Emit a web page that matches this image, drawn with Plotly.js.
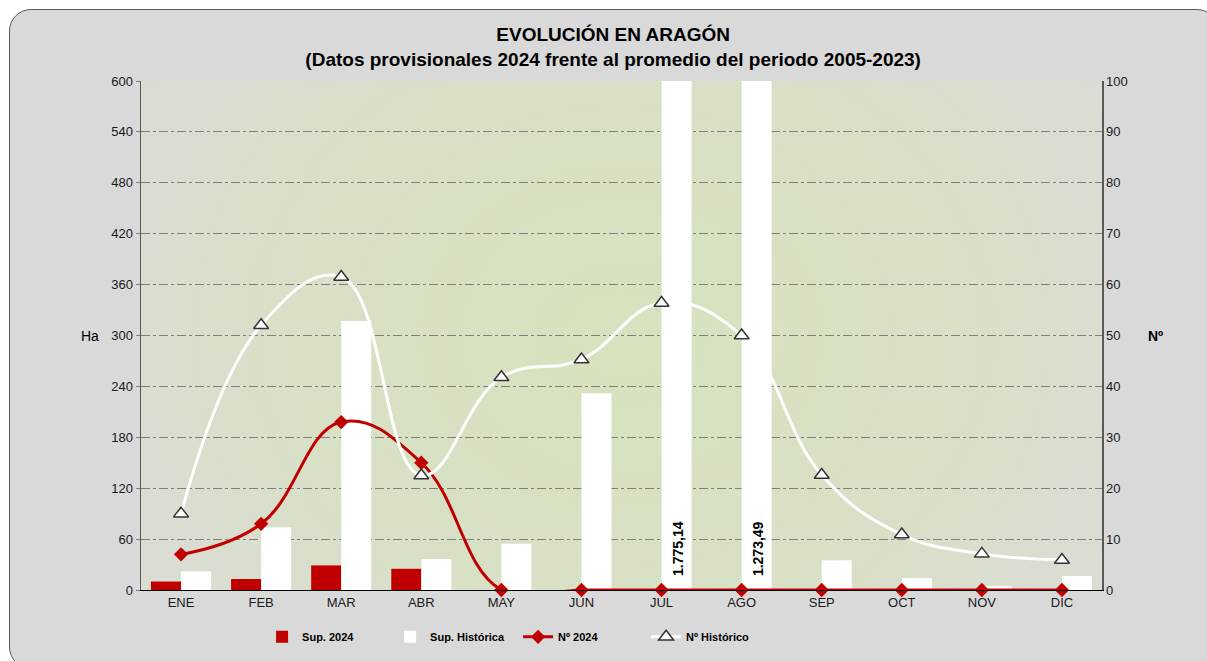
<!DOCTYPE html>
<html>
<head>
<meta charset="utf-8">
<script src="https://cdn.plot.ly/plotly-3.0.1.min.js"></script>
<style>
  html, body { margin: 0; padding: 0; background: #ffffff; }
  #frame { position: absolute; left: 9px; top: 9px; width: 1210px; height: 660px;
           background: #d9d9d9; border: 1.5px solid #595959; border-radius: 22px; box-sizing: border-box; }
  #chart { position: absolute; left: 0; top: 0; width: 1207px; height: 661px; }
</style>
</head>
<body>
<div id="frame"></div>
<div id="chart"></div>
<script>
const months = ["ENE","FEB","MAR","ABR","MAY","JUN","JUL","AGO","SEP","OCT","NOV","DIC"];
const sup2024 = [10, 13, 29, 25, 0, 0, 0, 0, 0, 0, 0, 0];
const supHistorica = [22, 74, 317, 36.5, 54.5, 232, 1775.14, 1273.49, 35, 14, 4.5, 16.5];
const num2024 = [7, 13, 33, 25, 0, 0, 0, 0, 0, 0, 0, 0];
const numHistorico = [15, 52, 61.5, 22.5, 41.8, 45.3, 56.4, 50, 22.6, 10.9, 7.1, 5.9];
const barLabels = [{month: "JUL", text: "1.775,14"}, {month: "AGO", text: "1.273,49"}];

const FONT = "Arial, 'Liberation Sans', sans-serif";

const bgSvg = '<svg xmlns="http://www.w3.org/2000/svg" width="961" height="509">' +
  '<defs><radialGradient id="g" cx="0.5" cy="0.5" r="0.62" gradientTransform="translate(0.5 0.5) scale(1 1.6) translate(-0.5 -0.5)">' +
  '<stop offset="0" stop-color="#d6e3bd"/><stop offset="0.55" stop-color="#d8e0c6"/><stop offset="1" stop-color="#dbdcd7"/></radialGradient></defs>' +
  '<rect width="961" height="509" fill="url(#g)"/></svg>';
const bgUri = 'data:image/svg+xml;base64,' + btoa(bgSvg);

const traces = [
  {type: "bar", name: "Sup. 2024", x: months, y: sup2024, marker: {color: "#c00000"}, yaxis: "y"},
  {type: "bar", name: "Sup. Histórica", x: months, y: supHistorica, marker: {color: "#ffffff"}, yaxis: "y"},
  {type: "scatter", mode: "lines+markers", name: "Nº 2024", x: months, y: num2024, yaxis: "y2",
   line: {color: "#c00000", width: 3, shape: "spline", smoothing: 1.2},
   marker: {symbol: "diamond", size: 11, color: "#c00000"}, cliponaxis: false},
  {type: "scatter", mode: "lines+markers", name: "Nº Histórico", x: months, y: numHistorico, yaxis: "y2",
   line: {color: "#ffffff", width: 3, shape: "spline", smoothing: 1.2},
   marker: {symbol: "triangle-up", size: 13, color: "#ffffff", line: {color: "#333333", width: 1.5}}, cliponaxis: false}
];

const annotations = barLabels.map(b => ({
  x: b.month, y: 0, xref: "x", yref: "y", text: "<b>" + b.text + "</b>", showarrow: false,
  textangle: -90, xanchor: "center", yanchor: "bottom", xshift: 16, yshift: 12,
  font: {family: FONT, size: 14, color: "#000000"}
}));
annotations.push({xref: "paper", yref: "paper", x: -0.042, y: 0.5, xanchor: "right", yanchor: "middle",
  text: "Ha", showarrow: false, font: {family: FONT, size: 14, color: "#000000"}});
annotations.push({xref: "paper", yref: "paper", x: 1.046, y: 0.5, xanchor: "left", yanchor: "middle",
  text: "<b>Nº</b>", showarrow: false, font: {family: FONT, size: 14, color: "#000000"}});

const layout = {
  width: 1207, height: 661,
  margin: {l: 141, r: 105, t: 81, b: 71, autoexpand: false},
  paper_bgcolor: "rgba(0,0,0,0)",
  plot_bgcolor: "rgba(0,0,0,0)",
  font: {family: FONT, size: 13, color: "#1a1a1a"},
  title: {text: "<b>EVOLUCIÓN EN ARAGÓN<br>(Datos provisionales 2024 frente al promedio del periodo 2005-2023)</b>",
          x: 0.508, xanchor: "center", y: 0.938, yanchor: "top", yref: "container",
          font: {family: FONT, size: 19, color: "#000000"}},
  barmode: "group", bargap: 0.25, bargroupgap: 0,
  xaxis: {type: "category", range: [-0.5, 11.5], autorange: false, showgrid: false, showline: true,
          linecolor: "#000000", linewidth: 1, ticks: "", tickfont: {size: 13, color: "#1a1a1a"}, zeroline: false},
  yaxis: {range: [0, 600], dtick: 60, showgrid: true, gridcolor: "#7f7f7f", griddash: "dashdot", gridwidth: 1,
          showline: true, linecolor: "#595959", linewidth: 1.5, ticks: "outside", ticklen: 4, tickcolor: "#7f7f7f",
          zeroline: false, tickfont: {size: 13, color: "#1a1a1a"}},
  yaxis2: {range: [0, 100], dtick: 10, overlaying: "y", side: "right", showgrid: false,
           showline: true, linecolor: "#595959", linewidth: 1.5, ticks: "", zeroline: false,
           tickfont: {size: 13, color: "#1a1a1a"}},
  legend: {orientation: "h", x: 0.126, xanchor: "left", y: -0.092, yanchor: "middle", entrywidth: 83,
           font: {family: FONT, size: 11, color: "#000000", weight: "bold"}, bgcolor: "rgba(0,0,0,0)"},
  showlegend: true,
  annotations: annotations,
  images: [{source: bgUri, xref: "paper", yref: "paper", x: 0, y: 1, sizex: 1, sizey: 1,
            sizing: "stretch", layer: "below", xanchor: "left", yanchor: "top"}]
};

Plotly.newPlot("chart", traces, layout, {displayModeBar: false, staticPlot: true});
</script>
</body>
</html>
